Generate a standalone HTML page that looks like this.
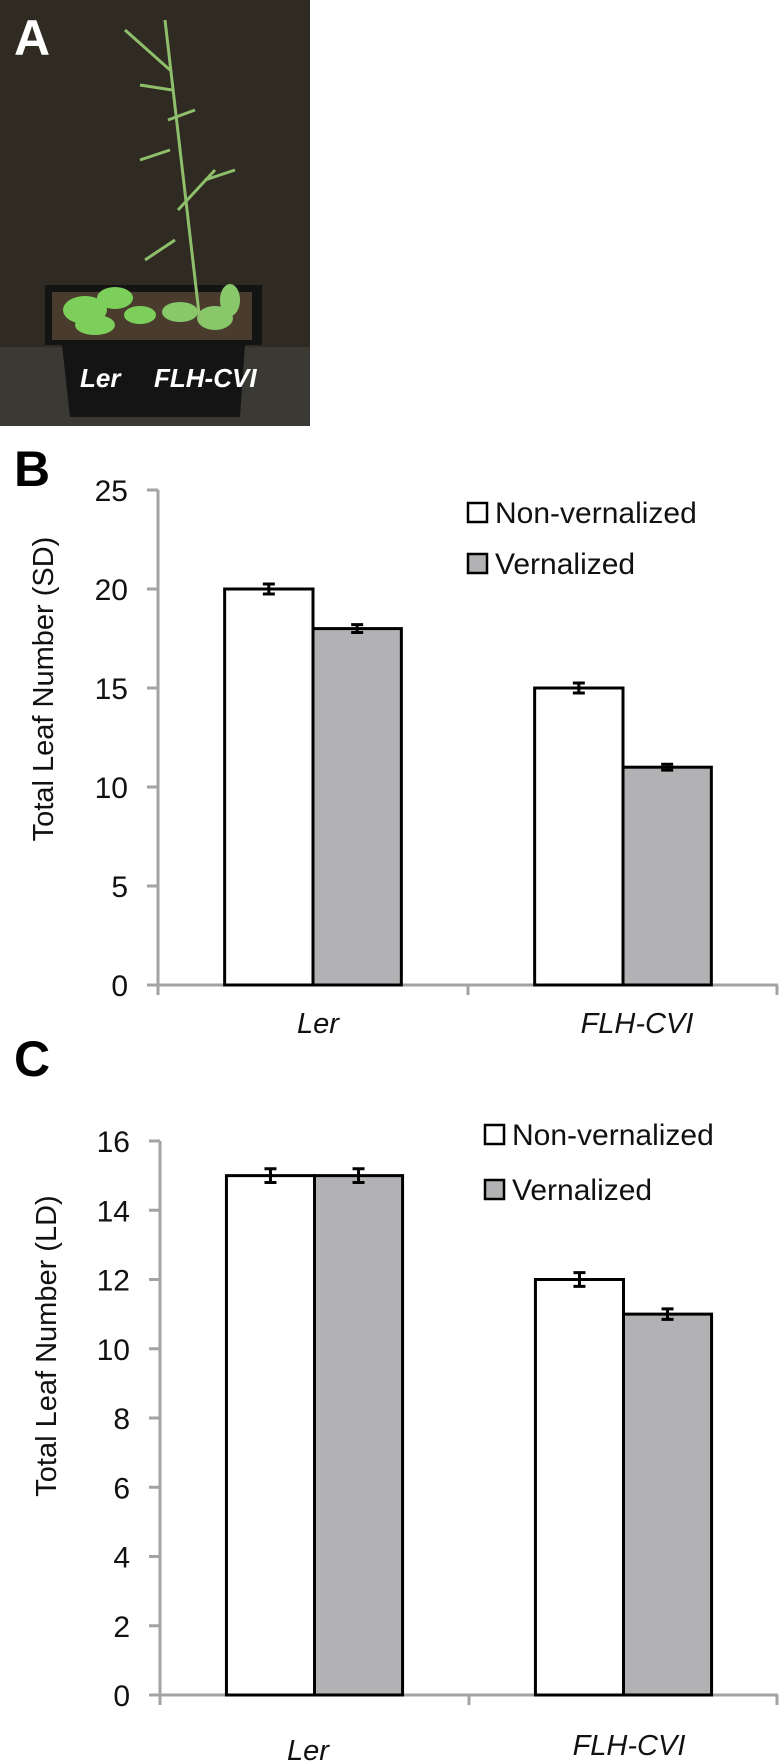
<!DOCTYPE html>
<html><head><meta charset="utf-8"><style>
html,body{margin:0;padding:0;background:#fff;}
svg{display:block;font-family:"Liberation Sans",sans-serif;}
</style></head><body>
<svg id="fig" width="780" height="1764" viewBox="0 0 780 1764" xmlns="http://www.w3.org/2000/svg">
  <g>
    <rect x="0" y="0" width="310" height="426" fill="#2f2b23"/>
    <rect x="0" y="347" width="310" height="79" fill="#3b3934"/>
    <polygon points="45,285 262,285 262,345 245,345 240,417 70,417 62,345 45,345" fill="#141414"/>
    <rect x="52" y="292" width="200" height="48" fill="#4a3c2c"/>
    <g fill="#7ccf5a">
      <ellipse cx="85" cy="310" rx="22" ry="14"/><ellipse cx="115" cy="298" rx="18" ry="11"/><ellipse cx="95" cy="325" rx="20" ry="10"/><ellipse cx="140" cy="315" rx="16" ry="9"/>
    </g>
    <g fill="#88c86a">
      <ellipse cx="180" cy="312" rx="18" ry="10"/><ellipse cx="215" cy="318" rx="18" ry="12"/><ellipse cx="230" cy="300" rx="10" ry="16"/>
    </g>
    <g stroke="#8fbf6a" stroke-width="3" fill="none">
      <path d="M200,322 L165,20"/><path d="M178,210 L215,170"/><path d="M175,240 L145,260"/>
      <path d="M170,70 L125,30"/><path d="M172,90 L140,85"/><path d="M168,120 L195,110"/><path d="M170,150 L140,160"/><path d="M205,180 L235,170"/>
    </g>
    <text x="14" y="55" fill="#fff" font-size="50" font-weight="bold">A</text>
    <text x="80" y="387" fill="#fff" font-size="26" font-weight="bold" font-style="italic">Ler</text>
    <text x="154" y="387" fill="#fff" font-size="26" font-weight="bold" font-style="italic">FLH-CVI</text>
  </g>
  <text x="14" y="486" font-size="50" font-weight="bold">B</text>
  <text x="14" y="1076" font-size="50" font-weight="bold">C</text>
  <g id="chartB"></g>
  <g id="chartC"></g>
</svg>
<script>
const categories = ["Ler", "FLH-CVI"];
const seriesNames = ["Non-vernalized", "Vernalized"];
const sdValuesNon = [20, 15];
const sdValuesVern = [18, 11];
const sdErrNon = [0.25, 0.25];
const sdErrVern = [0.2, 0.15];
const sdTicks = [0, 5, 10, 15, 20, 25];
const ldValuesNon = [15, 12];
const ldValuesVern = [15, 11];
const ldErrNon = [0.2, 0.2];
const ldErrVern = [0.2, 0.15];
const ldTicks = [0, 2, 4, 6, 8, 10, 12, 14, 16];

const NS = "http://www.w3.org/2000/svg";
function mk(parent, tag, attrs, text) {
  const e = document.createElementNS(NS, tag);
  for (const k in attrs) e.setAttribute(k, attrs[k]);
  if (text !== undefined) e.textContent = text;
  parent.appendChild(e);
  return e;
}
function drawChart(g, cfg) {
  const yScale = v => cfg.y0 - (v - cfg.min) / (cfg.max - cfg.min) * (cfg.y0 - cfg.yTop);
  const axisColor = "#a3a3a5";
  let ax = mk(g, "line", {x1: cfg.ax, y1: cfg.yTop, x2: cfg.ax, y2: cfg.y0 + 10, stroke: axisColor, "stroke-width": 3});
  
  
  cfg.ticks.forEach(t => {
    const y = yScale(t);
    const tk = mk(g, "line", {x1: cfg.ax - 11, y1: y, x2: cfg.ax, y2: y, stroke: axisColor, "stroke-width": 3});
    
    
    const lb = mk(g, "text", {x: cfg.ax - 30, y: y + 11, "font-size": 30, "text-anchor": "end", fill: "#111"}, String(t));
    
    
  });
  let xa = mk(g, "line", {x1: cfg.ax - 11, y1: cfg.y0, x2: cfg.xEnd, y2: cfg.y0, stroke: axisColor, "stroke-width": 3});
  
  
  const groupW = (cfg.xEnd - cfg.ax) / categories.length;
  [cfg.ax + groupW, cfg.xEnd - 1].forEach(x => {
    const t = mk(g, "line", {x1: x, y1: cfg.y0, x2: x, y2: cfg.y0 + 10, stroke: axisColor, "stroke-width": 3});
    
    
  });
  const barW = groupW * 0.285;
  categories.forEach((c, i) => {
    const center = cfg.ax + groupW * (i + 0.5);
    [[cfg.non, cfg.errNon, "#ffffff", "non-vernalized"], [cfg.vern, cfg.errVern, "#b2b2b4", "vernalized"]].forEach((s, j) => {
      const x = center - barW + j * barW;
      const v = s[0][i];
      const r = mk(g, "rect", {x: x, y: yScale(v), width: barW, height: cfg.y0 - yScale(v), fill: s[2], stroke: "#000", "stroke-width": 3});
      
      
      const ex = x + barW / 2, e = s[1][i];
      const eb = mk(g, "path", {d: `M${ex},${yScale(v + e)}V${yScale(v - e)}M${ex - 6},${yScale(v + e)}H${ex + 6}M${ex - 6},${yScale(v - e)}H${ex + 6}`, stroke: "#000", "stroke-width": 3, fill: "none"});
      
      
    });
    const cl = mk(g, "text", {x: cfg.catX[i], y: cfg.catY[i], "font-size": 29, "text-anchor": "middle", "font-style": "italic", fill: "#111"}, c);
    
    
  });
  seriesNames.forEach((n, j) => {
    const ly = cfg.legY + j * cfg.legGap;
    const b = mk(g, "rect", {x: cfg.legX, y: ly, width: 19, height: 19, fill: j ? "#b2b2b4" : "#fff", stroke: "#000", "stroke-width": 2.5});
    
    
    const t = mk(g, "text", {x: cfg.legX + 27, y: ly + 20, "font-size": 30, fill: "#111"}, n);
    
    
  });
  const tt = mk(g, "text", {x: 0, y: 0, "font-size": 29, "text-anchor": "middle", fill: "#111", transform: `translate(${cfg.titleX},${cfg.titleY}) rotate(-90)`}, cfg.title);
  
  
}
drawChart(document.getElementById("chartB"), {
  ax: 158, y0: 985, yTop: 490, min: 0, max: 25, xEnd: 778, ticks: sdTicks,
  non: sdValuesNon, vern: sdValuesVern, errNon: sdErrNon, errVern: sdErrVern,
  catX: [318, 637], catY: [1033, 1033], legX: 468, legY: 503, legGap: 51,
  title: "Total Leaf Number  (SD)", titleX: 53, titleY: 689
});
drawChart(document.getElementById("chartC"), {
  ax: 160, y0: 1695, yTop: 1141, min: 0, max: 16, xEnd: 778, ticks: ldTicks,
  non: ldValuesNon, vern: ldValuesVern, errNon: ldErrNon, errVern: ldErrVern,
  catX: [308, 629], catY: [1760, 1755], legX: 485, legY: 1125, legGap: 55,
  title: "Total Leaf Number  (LD)", titleX: 56, titleY: 1346
});
</script>
</body></html>
